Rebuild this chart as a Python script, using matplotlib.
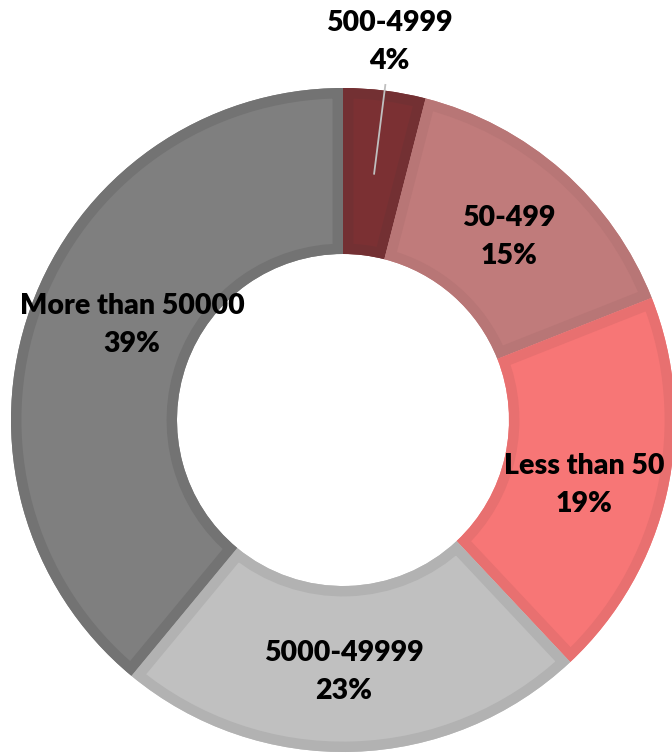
import numpy as np
import matplotlib
matplotlib.use("Agg")
import matplotlib.pyplot as plt
from matplotlib.patches import PathPatch

categories = ["500-4999", "50-499", "Less than 50", "5000-49999", "More than 50000"]
shares = [4, 15, 19, 23, 39]
fills = ["#7B3033", "#C07B7B", "#F77676", "#C0C0C0", "#7F7F7F"]
borders = ["#733033", "#B87676", "#E87070", "#B2B2B2", "#737373"]

W, H = 672, 753
cx, cy, R = 343, 420, 332
# label centres in pixels (from top-left)
label_px = [(389, 42), (509, 237), (584, 485), (344, 672), (132, 325)]

fig = plt.figure(figsize=(W / 100, H / 100), dpi=100)
ax = fig.add_axes([0, 0, 1, 1])

wedges, _ = ax.pie(shares, colors=fills, startangle=90, counterclock=False,
                   radius=1.0, wedgeprops=dict(width=0.5, linewidth=0))
ax.set_xlim(-cx / R, (W - cx) / R)
ax.set_ylim(-(H - cy) / R, cy / R)
ax.set_aspect("auto")
ax.axis("off")

for w, ec in zip(wedges, borders):
    bp = PathPatch(w.get_path(), transform=w.get_transform(), facecolor="none",
                   edgecolor=ec, linewidth=15, joinstyle="miter", zorder=w.get_zorder() + 0.1)
    ax.add_patch(bp)
    bp.set_clip_path(w)

font = dict(family=["Lato", "DejaVu Sans"], fontsize=20.5, fontweight="heavy",
            color="black", ha="center", va="center", linespacing=1.6)

for w, cat, v, (px, py) in zip(wedges, categories, shares, label_px):
    x, y = (px - cx) / R, (cy - py) / R
    if v < 5:
        mid = np.deg2rad((w.theta1 + w.theta2) / 2)
        r0, r1 = 0.745, 1.02
        ax.plot([r0 * np.cos(mid), r1 * np.cos(mid)],
                [r0 * np.sin(mid), r1 * np.sin(mid)],
                color="#BFBFBF", lw=1.3, solid_capstyle="butt", zorder=5)
    ax.text(x, y, f"{cat}\n{v}%", zorder=6, **font)

fig.savefig("out.png", dpi=100)
